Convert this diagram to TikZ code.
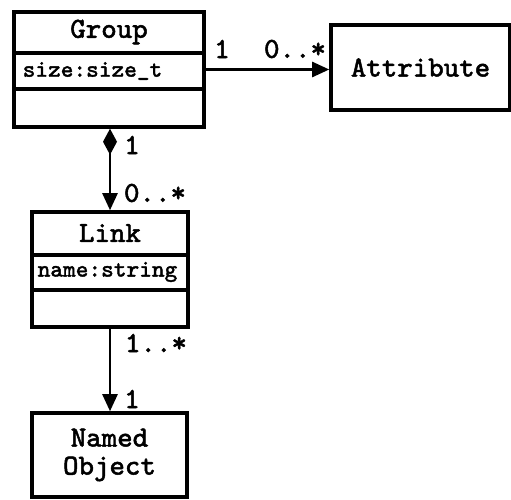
\documentclass[tikz,border=0pt]{standalone}
\usepackage{fontspec}
\newfontfamily\umlfont{Latin Modern Mono}[FakeBold=1.6]
\usetikzlibrary{arrows.meta}

\begin{document}
\begin{tikzpicture}[
    classbox/.style={draw, line width=1pt, inner sep=0pt},
    classname/.style={font=\umlfont\fontsize{8.3}{8}\selectfont, align=center},
    attrtext/.style={font=\umlfont\fontsize{6.8}{7}\selectfont, anchor=west, inner sep=0pt},
    multlabel/.style={font=\umlfont\fontsize{8.3}{8}\selectfont},
    divider/.style={line width=1pt},
    assoc/.style={line width=0.7pt, -{Triangle[length=0.17cm,width=0.15cm]}},
    compose/.style={line width=0.7pt, {Diamond[length=0.26cm,width=0.14cm]}-{Triangle[length=0.17cm,width=0.15cm]}}
    ]
    \useasboundingbox (0,0) rectangle (5.11,-5.00);

    % Group class
    \node[classbox, minimum width=1.90cm, minimum height=1.15cm] (group) at (1.09,-0.695) {};
    \node[classname] (groupname) at (1.09,-0.32) {Group};
    \draw[divider] (group.west |- 0,-0.53) -- (group.east |- 0,-0.53);
    \draw[divider] (group.west |- 0,-0.89) -- (group.east |- 0,-0.89);
    \node[attrtext] (groupattr) at (0.22,-0.71) {size:size\_t};

    % Attribute class
    \node[classbox, minimum width=1.79cm, minimum height=0.85cm, classname] (attr) at (4.205,-0.675) {Attribute};

    % Link class
    \node[classbox, minimum width=1.56cm, minimum height=1.15cm] (link) at (1.10,-2.695) {};
    \node[classname] (linkname) at (1.10,-2.33) {Link};
    \draw[divider] (link.west |- 0,-2.55) -- (link.east |- 0,-2.55);
    \draw[divider] (link.west |- 0,-2.90) -- (link.east |- 0,-2.90);
    \node[attrtext] (linkattr) at (0.37,-2.72) {name:string};

    % Named Object class
    \node[classbox, minimum width=1.55cm, minimum height=0.84cm, classname] (named) at (1.095,-4.55) {Named\\Object};

    % Group -> Attribute
    \draw[assoc] (group.east) -- (group.east -| attr.west);
    \node[multlabel] (m1) at (2.22,-0.49) {1};
    \node[multlabel] (m2) at (2.95,-0.49) {0..*};

    % Group <>-> Link
    \draw[compose] (link.north |- group.south) -- (link.north);
    \node[multlabel] (m3) at (1.32,-1.45) {1};
    \node[multlabel] (m4) at (1.55,-1.93) {0..*};

    % Link -> Named Object
    \draw[assoc] (link.south) -- (link.south |- named.north);
    \node[multlabel] (m5) at (1.56,-3.43) {1..*};
    \node[multlabel] (m6) at (1.32,-3.99) {1};
\end{tikzpicture}
\end{document}
